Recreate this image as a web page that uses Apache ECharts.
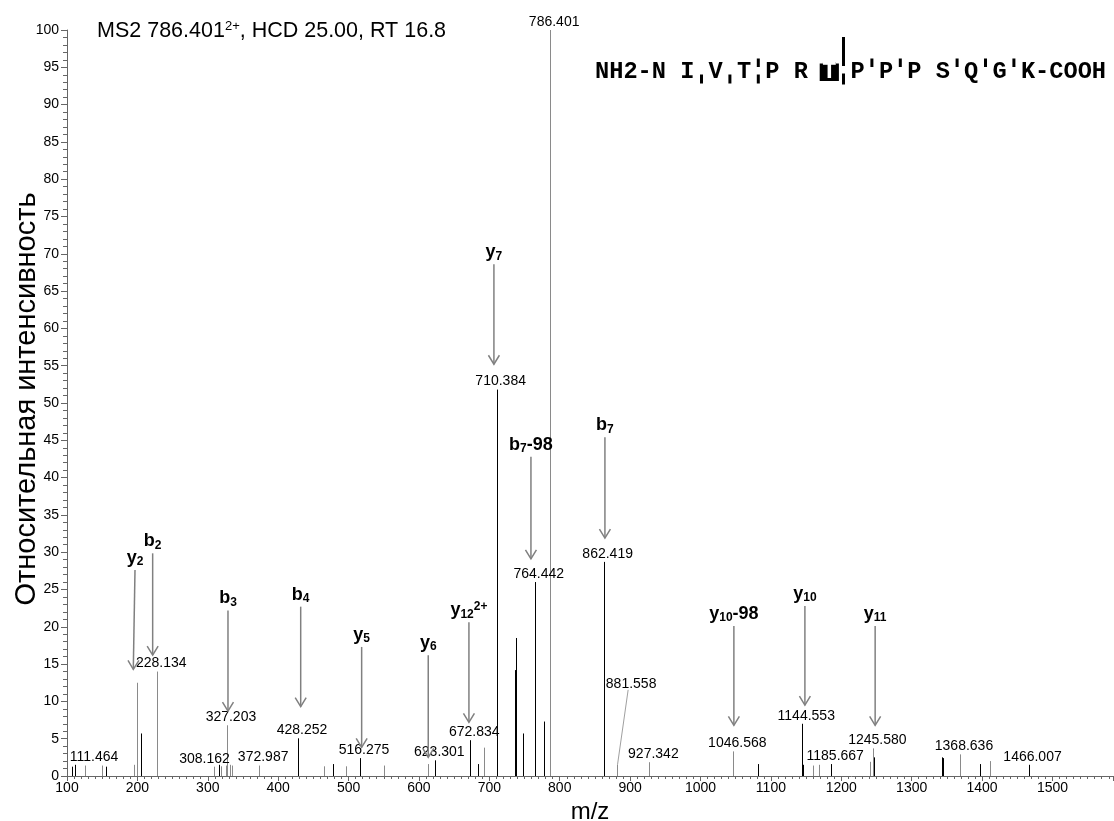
<!DOCTYPE html>
<html><head><meta charset="utf-8">
<script src="https://cdn.jsdelivr.net/npm/echarts@6/dist/echarts.min.js"></script>
<style>html,body{margin:0;padding:0;background:#fff}#c{width:1114px;height:821px}</style>
</head><body><div id="c"></div><script>
// ---------------- data ----------------
const peakMzDark  = [106.6, 111.464, 155.4, 204.6, 316.4, 428.252, 478.3, 516.275, 623.301, 672.834, 684.3, 710.384, 711.0, 736.4, 737.8, 747.3, 764.442, 765.0, 777.6, 778.2, 862.419, 863.2, 1081.0, 1144.553, 1145.6, 1185.667, 1246.6, 1343.7, 1344.2, 1344.7, 1396.9, 1466.007];
const peakIntDark = [1.25, 1.5, 1.25, 5.7, 1.5, 5.05, 1.6, 2.4, 2.1, 4.8, 1.6, 51.8, 10.8, 14.2, 18.5, 5.7, 26.0, 7.0, 7.3, 3.0, 28.7, 6.1, 1.6, 7.0, 1.5, 1.6, 2.5, 2.5, 2.4, 2.1, 1.6, 1.5];
const peakMzGray  = [125.6, 149.3, 195.2, 200.1, 228.134, 308.162, 318.8, 325.4, 327.203, 331.5, 334.8, 372.987, 464.6, 496.3, 550.3, 613.3, 691.9, 786.401, 881.558, 927.342, 1046.568, 1160.2, 1167.7, 1241.0, 1245.580, 1368.636, 1411.0];
const peakIntGray = [1.4, 1.4, 1.5, 12.5, 14.0, 1.25, 1.3, 1.4, 6.8, 1.5, 1.4, 1.4, 1.3, 1.3, 1.4, 1.6, 3.8, 100, 1.5, 1.85, 3.3, 1.4, 1.5, 1.9, 3.7, 2.9, 2.0];
const labeledMz = [111.464, 228.134, 308.162, 327.203, 372.987, 428.252, 516.275, 623.301, 672.834, 710.384, 764.442, 786.401, 862.419, 881.558, 927.342, 1046.568, 1144.553, 1185.667, 1245.580, 1368.636, 1466.007];

// fragment ion annotations (arrow from top to tip, data coordinates)
const ionBase   = ['y', 'b', 'b', 'b', 'y', 'y', 'y', 'y', 'b', 'b', 'y', 'y', 'y'];
const ionSub    = ['2', '2', '3', '4', '5', '6', '12', '7', '7', '7', '10', '10', '11'];
const ionSup    = ['', '', '', '', '', '', '2+', '', '', '', '', '', ''];
const ionSuffix = ['', '', '', '', '', '', '', '', '-98', '', '-98', '', ''];
const ionMzTop  = [196.6, 221.7, 328.7, 432.0, 518.6, 613.2, 671.0, 706.5, 759.1, 864.2, 1047.4, 1148.3, 1248.1];
const ionIntTop = [27.6, 29.85, 22.2, 22.7, 17.3, 16.2, 20.6, 68.6, 42.8, 45.4, 20.1, 22.8, 20.1];
const ionMzTip  = [194.2, 221.7, 328.7, 432.0, 518.6, 613.2, 671.0, 706.5, 759.1, 864.2, 1047.4, 1148.3, 1248.1];
const ionIntTip = [14.3, 16.2, 8.7, 9.3, 3.85, 2.5, 7.2, 55.2, 29.1, 31.9, 6.8, 9.5, 6.8];

const titleMain = 'MS2 786.401';
const titleCharge = '2+';
const titleRest = ', HCD 25.00, RT 16.8';
const yAxisName = 'Относительная интенсивность';
const xAxisName = 'm/z';
const sequence = ['N', 'I', 'V', 'T', 'P', 'R', 'T', 'P', 'P', 'P', 'S', 'Q', 'G', 'K'];
const cleaveBelow = [1, 2, 3, 6];
const cleaveAbove = [3, 6, 7, 8, 10, 11, 12];
const strongCleave = 6;
const modifiedResidue = 6;

// ---------------- layout / style ----------------
const FONT = '"Liberation Sans", Arial, sans-serif';
const MONO = '"Liberation Mono", "Courier New", monospace';
const labelNudge = { '111.464': [15, 0], '308.162': [-13, 0], '881.558': [10, -73, true] };

function lookupInt(m) {
  let i = peakMzDark.indexOf(m);
  if (i >= 0) return peakIntDark[i];
  i = peakMzGray.indexOf(m);
  return i >= 0 ? peakIntGray[i] : 0;
}

function peakSeries(mzArr, intArr, color, w, z) {
  return {
    type: 'custom', coordinateSystem: 'cartesian2d', silent: true, z: z,
    encode: { x: 0, y: 1 },
    data: mzArr.map((m, i) => [m, intArr[i]]),
    renderItem: (params, api) => {
      const p0 = api.coord([api.value(0), 0]);
      const p1 = api.coord([api.value(0), api.value(1)]);
      const x = Math.round(p0[0]) + 0.5;
      return { type: 'line', shape: { x1: x, y1: p0[1], x2: x, y2: p1[1] },
               style: { stroke: color, lineWidth: w } };
    }
  };
}

const labelSeries = {
  type: 'custom', coordinateSystem: 'cartesian2d', silent: true, z: 5,
  encode: { x: 0, y: 1 },
  data: labeledMz.map(m => [m, lookupInt(m)]),
  renderItem: (params, api) => {
    const m = api.value(0);
    const key = m.toFixed(3);
    const p = api.coord([m, api.value(1)]);
    const nd = labelNudge[key] || [0, 0];
    const cx = p[0] + 4 + nd[0];
    const by = p[1] - 1 + nd[1];
    const children = [{
      type: 'text', x: cx, y: by,
      style: { text: key, fill: '#000', font: '14px ' + FONT, align: 'center', verticalAlign: 'bottom' }
    }];
    if (nd[2]) {
      children.push({ type: 'line', shape: { x1: Math.round(p[0]) + 0.5, y1: p[1], x2: cx - 3, y2: by - 1 },
                      style: { stroke: '#a0a0a0', lineWidth: 1 } });
    }
    return { type: 'group', children: children };
  }
};

const ionRich = {
  m: { fontSize: 18, fontWeight: 'bold', fontFamily: FONT, lineHeight: 20, fill: '#000' },
  s: { fontSize: 12, fontWeight: 'bold', fontFamily: FONT, lineHeight: 12, verticalAlign: 'bottom', fill: '#000' },
  p: { fontSize: 12, fontWeight: 'bold', fontFamily: FONT, lineHeight: 12, verticalAlign: 'top', fill: '#000' }
};
function ionText(i) {
  let t = '{m|' + ionBase[i] + '}{s|' + ionSub[i] + '}';
  if (ionSup[i]) t += '{p|' + ionSup[i] + '}';
  if (ionSuffix[i]) t += '{m|' + ionSuffix[i] + '}';
  return t;
}
const ionSeries = {
  type: 'custom', coordinateSystem: 'cartesian2d', silent: true, z: 6,
  encode: { x: 0, y: 1 },
  data: ionBase.map((b, i) => [ionMzTop[i], ionIntTop[i], ionMzTip[i], ionIntTip[i], i]),
  renderItem: (params, api) => {
    const i = api.value(4);
    const a = api.coord([api.value(0), api.value(1)]);
    const b = api.coord([api.value(2), api.value(3)]);
    const ang = Math.atan2(b[1] - a[1], b[0] - a[0]);
    const L = 10.5, s = 0.55;
    const h1 = [b[0] - L * Math.cos(ang - s), b[1] - L * Math.sin(ang - s)];
    const h2 = [b[0] - L * Math.cos(ang + s), b[1] - L * Math.sin(ang + s)];
    return { type: 'group', children: [
      { type: 'line', shape: { x1: a[0], y1: a[1], x2: b[0], y2: b[1] }, style: { stroke: '#808080', lineWidth: 1.5 } },
      { type: 'polyline', shape: { points: [h1, b, h2] }, style: { stroke: '#808080', lineWidth: 1.5, fill: null } },
      { type: 'text', x: a[0], y: a[1] - 2,
        style: { text: ionText(i), rich: ionRich, align: 'center', verticalAlign: 'bottom', fill: '#000', font: 'bold 18px ' + FONT } }
    ] };
  }
};

// peptide sequence graphic
const seqStr = 'NH2-' + sequence.join(' ') + '-COOH';
const cw = 14.2, seqX0 = 595, seqTop = 60;
const seqFont = 'bold ' + (cw / 0.6).toFixed(2) + 'px ' + MONO;
const seqGraphics = [{
  type: 'text', left: seqX0, top: seqTop, z: 10,
  style: { text: seqStr, fill: '#000', font: seqFont }
}];
function gapX(g) { return seqX0 + (5 + 2 * g + 0.5) * cw; }
cleaveBelow.forEach(g => {
  const strong = g === strongCleave;
  seqGraphics.push({ type: 'rect', z: 11, shape: { x: gapX(g) - 1.5, y: strong ? 73.5 : 74.5, width: 3, height: strong ? 11 : 9 }, style: { fill: '#000' } });
});
cleaveAbove.forEach(g => {
  const tall = g === strongCleave;
  seqGraphics.push({ type: 'rect', z: 11, shape: { x: gapX(g) - 1.5, y: tall ? 37 : 58.5, width: 3, height: tall ? 29 : 8.5 }, style: { fill: '#000' } });
});
const modX = seqX0 + (4 + 2 * modifiedResidue) * cw;
seqGraphics.push({ type: 'rect', z: 11, shape: { x: modX - 2.5, y: 63.5, width: cw + 5, height: 17.5 }, style: { fill: '#000' } });
seqGraphics.push({ type: 'text', z: 12, left: modX, top: seqTop,
  style: { text: sequence[modifiedResidue], fill: '#fff', font: seqFont } });
// y axis title
seqGraphics.push({ type: 'text', x: 27, y: 399, rotation: Math.PI / 2, z: 10,
  style: { text: yAxisName, fill: '#000', font: '29px ' + FONT, align: 'center', verticalAlign: 'middle' } });

const chart = echarts.init(document.getElementById('c'), null, { renderer: 'canvas' });
chart.setOption({
  animation: false,
  backgroundColor: '#fff',
  title: {
    text: titleMain + '{p|' + titleCharge + '}' + titleRest,
    left: 97, top: 20, padding: 0,
    textStyle: { fontFamily: FONT, fontSize: 21.5, fontWeight: 'normal', color: '#000', lineHeight: 22,
      rich: { p: { fontFamily: FONT, fontSize: 13, color: '#000', verticalAlign: 'top', lineHeight: 13 } } }
  },
  grid: { left: 67, right: 1, top: 30, bottom: 45, containLabel: false, outerBoundsMode: 'none' },
  xAxis: {
    type: 'value', min: 100, max: 1586, interval: 100,
    name: xAxisName, nameLocation: 'middle', nameGap: 23,
    nameTextStyle: { fontFamily: FONT, fontSize: 24, color: '#000' },
    axisLine: { show: true, lineStyle: { color: '#666', width: 1 } },
    axisTick: { show: true, length: 5, lineStyle: { color: '#666' } },
    minorTick: { show: true, splitNumber: 10, length: 3, lineStyle: { color: '#666' } },
    splitLine: { show: false }, minorSplitLine: { show: false },
    axisLabel: { fontFamily: FONT, fontSize: 14, color: '#000', margin: 5, showMaxLabel: false,
      formatter: v => (v % 100 === 0 ? String(v) : '') }
  },
  yAxis: {
    type: 'value', min: 0, max: 100, interval: 5,
    axisLine: { show: true, lineStyle: { color: '#666', width: 1 } },
    axisTick: { show: true, length: 6, lineStyle: { color: '#666' } },
    minorTick: { show: true, splitNumber: 5, length: 4, lineStyle: { color: '#666' } },
    splitLine: { show: false }, minorSplitLine: { show: false },
    axisLabel: { fontFamily: FONT, fontSize: 14, color: '#000', margin: 8 }
  },
  graphic: seqGraphics,
  series: [
    peakSeries(peakMzGray, peakIntGray, '#8a8a8a', 1, 2),
    peakSeries(peakMzDark, peakIntDark, '#000', 1, 3),
    labelSeries,
    ionSeries
  ]
});
</script></body></html>
